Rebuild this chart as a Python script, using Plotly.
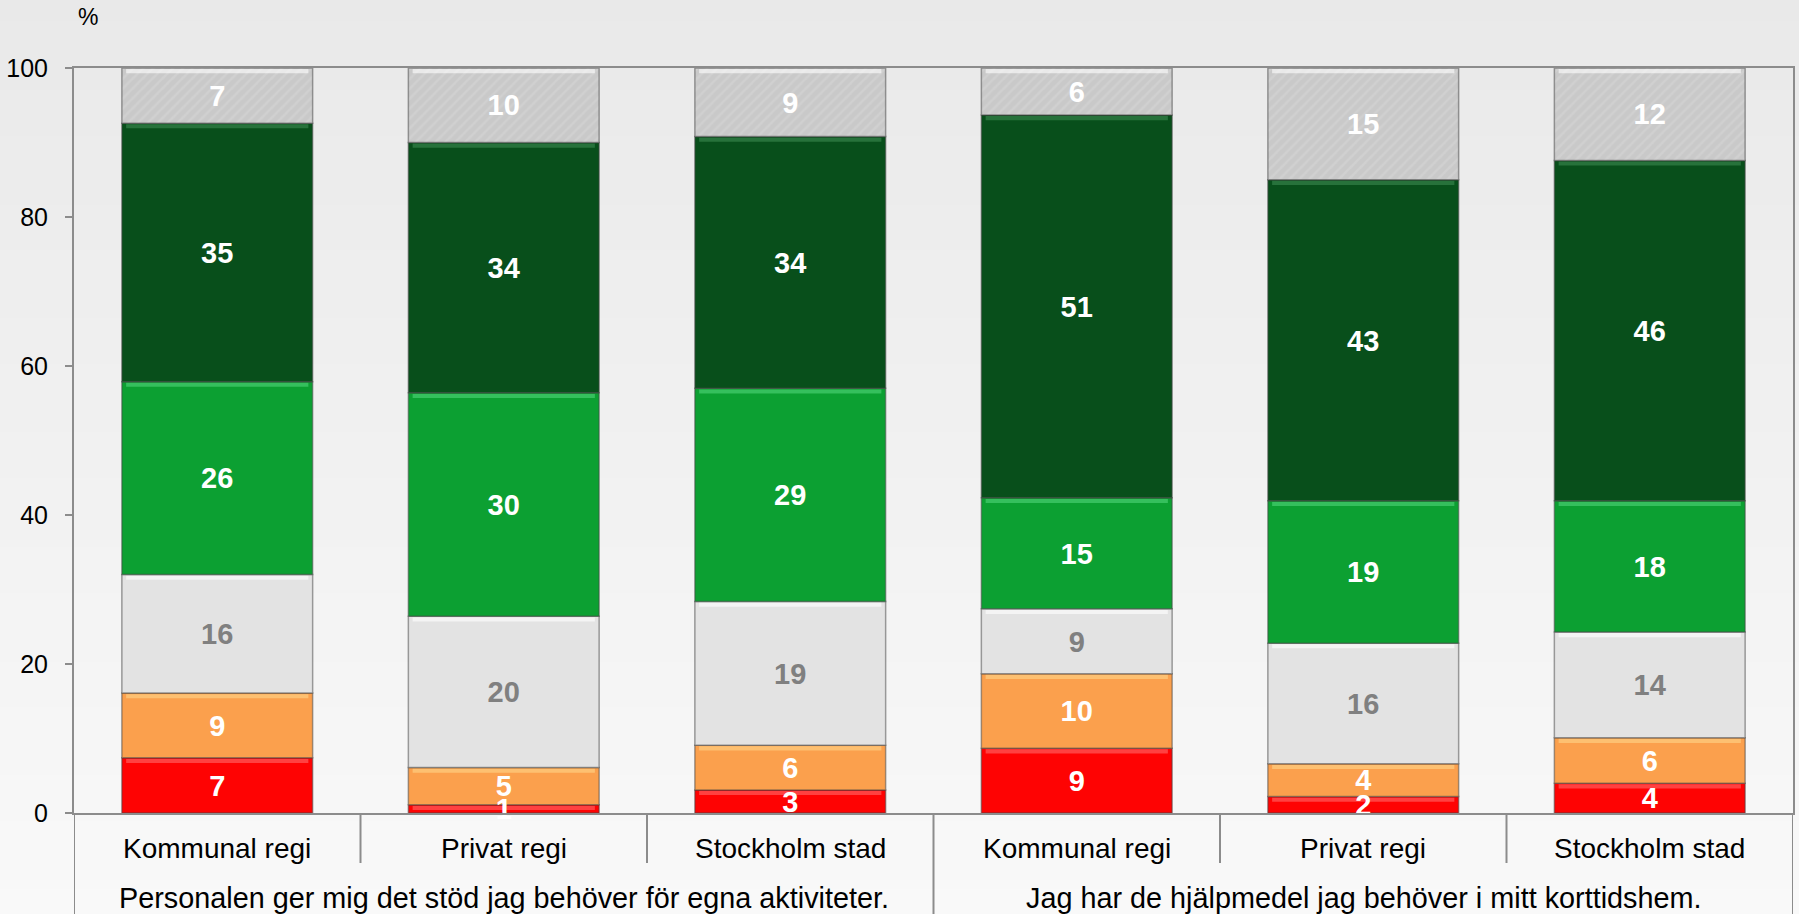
import plotly.graph_objects as go

# Response categories (bottom to top of each stacked bar)
series_names = [
    "Stämmer inte alls",
    "Stämmer ganska dåligt",
    "Varken eller",
    "Stämmer ganska bra",
    "Stämmer helt",
    "Vet ej",
]

sub_labels = ["Kommunal regi", "Privat regi", "Stockholm stad",
              "Kommunal regi", "Privat regi", "Stockholm stad"]
group_labels = ["Personalen ger mig det stöd jag behöver för egna aktiviteter.",
                "Jag har de hjälpmedel jag behöver i mitt korttidshem."]

# Percent shares per bar
red_vals = [7.4, 1.1, 3.1, 8.7, 2.2, 4.0]
orange_vals = [8.7, 5.0, 6.0, 10.0, 4.4, 6.1]
lightgray_vals = [15.9, 20.3, 19.3, 8.7, 16.2, 14.2]
green_vals = [25.9, 30.0, 28.6, 14.9, 19.1, 17.6]
darkgreen_vals = [34.7, 33.6, 33.8, 51.4, 43.1, 45.7]
unknown_vals = [7.4, 10.0, 9.2, 6.3, 15.0, 12.4]

y_ticks = [0, 20, 40, 60, 80, 100]

series_values = [red_vals, orange_vals, lightgray_vals, green_vals, darkgreen_vals, unknown_vals]
fill_colors = ["#FE0303", "#FBA04D", "#E3E3E3", "#0CA032", "#084F1B", "#C9C9C9"]
bevel_colors = ["#FF6A6A", "#FFD58A", "#FFFFFF", "#52D67A", "#3C8A52", "#FFFFFF"]
label_colors = ["white", "white", "#808080", "white", "white", "white"]

FONT = "Liberation Sans, Arial, sans-serif"
W, H = 1799, 914
ML, MR, MT, MB = 74, 4, 68, 101
plot_h = H - MT - MB
BAR_W = 0.666
BEVEL = 0.55        # height of the light top edge of each segment, in percent units
LABEL_DROP = 0.4    # small downward nudge so digits sit optically centred

x_pos = list(range(len(sub_labels)))

fig = go.Figure()

# stack segments manually so the bevel strips can sit on top of each segment
bases = [0.0] * len(x_pos)
label_x, label_y, label_txt, label_col = [], [], [], []
for name, vals, col, bcol, lcol in zip(series_names, series_values, fill_colors,
                                        bevel_colors, label_colors):
    marker = dict(color=col, line=dict(color="rgba(70,70,70,0.5)", width=1.5))
    if name == "Vet ej":
        marker["pattern"] = dict(shape="/", bgcolor="#C9C9C9", fgcolor="#D7D7D7",
                                 size=7, solidity=0.35)
    fig.add_trace(go.Bar(
        x=x_pos, y=vals, base=list(bases), name=name, marker=marker, width=BAR_W,
        hovertemplate=name + ": %{y:.0f}<extra></extra>",
    ))
    tops = [b + v for b, v in zip(bases, vals)]
    fig.add_trace(go.Bar(
        x=x_pos, y=[BEVEL] * len(x_pos), base=[t - BEVEL - 0.15 for t in tops],
        marker=dict(color=bcol, opacity=0.6, line=dict(width=0)),
        width=BAR_W - 0.03, hoverinfo="skip", showlegend=False,
    ))
    for xi, b, v in zip(x_pos, bases, vals):
        label_x.append(xi)
        label_y.append(b + v / 2 - LABEL_DROP)
        label_txt.append(f"{v:.0f}")
        label_col.append(lcol)
    bases = tops

# value labels, centred in each segment and drawn above all bars
fig.add_trace(go.Scatter(
    x=label_x, y=label_y, text=label_txt, mode="text", cliponaxis=False,
    textposition="middle center",
    textfont=dict(family=FONT, size=29, color=label_col, weight="bold"),
    hoverinfo="skip", showlegend=False,
))

# Soft vertical gradient behind the whole figure
shapes = []
n_bands = 40
top_p = 1 + MT / plot_h
bot_p = -MB / plot_h
c_top, c_bot = 233, 249
for i in range(n_bands):
    y0 = top_p - (top_p - bot_p) * i / n_bands
    y1 = top_p - (top_p - bot_p) * (i + 1) / n_bands
    c = round(c_top + (c_bot - c_top) * (i + 0.5) / n_bands)
    shapes.append(dict(type="rect", xref="paper", yref="paper", x0=-0.1, x1=1.1,
                       y0=y1 - 0.002, y1=y0 + 0.002, fillcolor=f"rgb({c},{c},{c})",
                       line=dict(width=0), layer="below"))

# Category dividers below the axis
row1_bottom = -50 / plot_h
full_bottom = bot_p
line_style = dict(color="#8C8C8C", width=2)
for xb in [-0.5, 0.5, 1.5, 2.5, 3.5, 4.5, 5.5]:
    long = xb in (-0.5, 2.5, 5.5)
    shapes.append(dict(type="line", xref="x", yref="paper", x0=xb, x1=xb,
                       y0=0, y1=full_bottom if long else row1_bottom, line=line_style))

annotations = []
for xi, lab in zip(x_pos, sub_labels):
    annotations.append(dict(x=xi, y=-35 / plot_h, xref="x", yref="paper", text=lab,
                            showarrow=False, xanchor="center", yanchor="middle",
                            font=dict(family=FONT, size=28, color="#000000")))
for xi, lab in zip([1, 4], group_labels):
    annotations.append(dict(x=xi, y=-85 / plot_h, xref="x", yref="paper", text=lab,
                            showarrow=False, xanchor="center", yanchor="middle",
                            font=dict(family=FONT, size=28.8, color="#000000")))
annotations.append(dict(x=14 / (W - ML - MR), y=1 + 51 / plot_h, xref="paper", yref="paper",
                        text="%", showarrow=False, xanchor="center", yanchor="middle",
                        font=dict(family=FONT, size=23, color="#000000")))

fig.update_layout(
    width=W, height=H,
    margin=dict(l=ML, r=MR, t=MT, b=MB),
    barmode="overlay",
    paper_bgcolor="#F0F0F0", plot_bgcolor="rgba(0,0,0,0)",
    showlegend=False,
    shapes=shapes, annotations=annotations,
    font=dict(family=FONT),
)
fig.update_xaxes(range=[-0.5, 5.5], showticklabels=False, ticks="", showgrid=False,
                 zeroline=False, showline=True, linecolor="#8C8C8C", linewidth=2,
                 mirror=True, fixedrange=True)
fig.update_yaxes(range=[0, 100], tickvals=y_ticks, ticks="outside", ticklen=7,
                 tickcolor="#8C8C8C", tickwidth=2, showgrid=False, zeroline=False,
                 showline=True, linecolor="#8C8C8C", linewidth=2, mirror=True,
                 ticklabelstandoff=12,
                 tickfont=dict(family=FONT, size=25, color="#000000"), fixedrange=True)

fig.write_html("out.html")
